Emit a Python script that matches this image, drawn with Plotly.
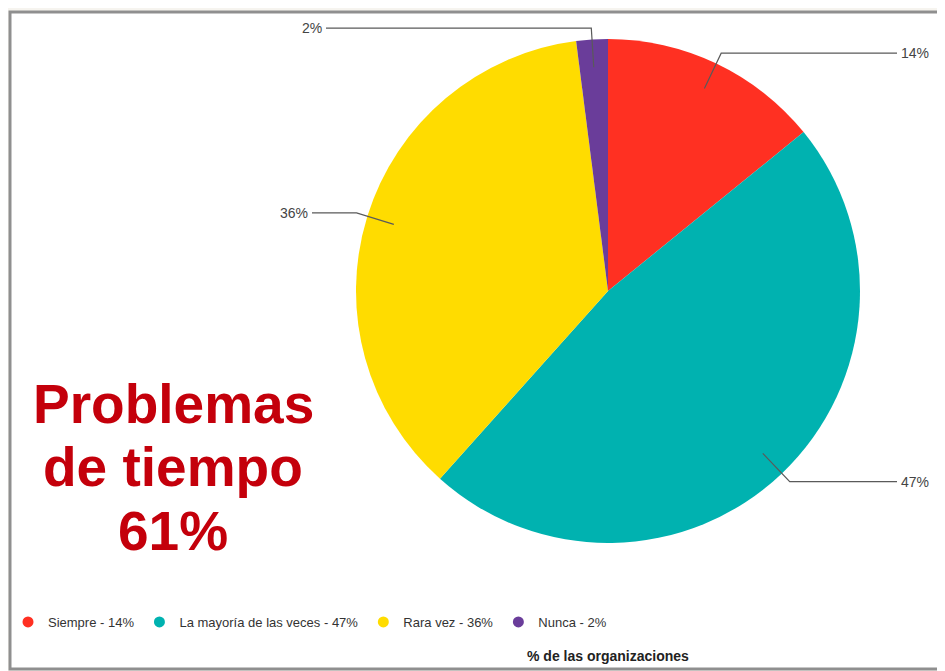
import math
import plotly.graph_objects as go

# ---- data ----
categories = ["Siempre", "La mayoría de las veces", "Rara vez", "Nunca"]
values = [14, 47, 36, 2]
colors = ["#FF3022", "#00B2B0", "#FFDC00", "#6A3D9A"]
axis_title = "% de las organizaciones"
headline = ["Problemas", "de tiempo", "61%"]

# ---- layout geometry (screen pixels; page body has an 8px margin) ----
OFF = 8
W, H = 937, 663
CX, CY, R = 608, 291, 252
LABEL_END_X = [897, 897, 312, 326]


def px(x):
    return (x - OFF) / W


def py(y):
    return 1 - (y - OFF) / H


fig = go.Figure()
fig.add_trace(go.Pie(
    labels=categories, values=values, sort=False, direction="clockwise",
    rotation=0, marker=dict(colors=colors, line=dict(width=0)),
    textinfo="none", hoverinfo="label+percent", showlegend=False,
    domain=dict(x=[px(CX - R), px(CX + R)], y=[py(CY + R), py(CY - R)]),
))

# legend entries as circle markers
for cat, v, c in zip(categories, values, colors):
    fig.add_trace(go.Scatter(
        x=[None], y=[None], mode="markers", name=f"{cat} - {v}%",
        marker=dict(symbol="circle", size=11, color=c),
    ))

shapes = [dict(type="rect", xref="paper", yref="paper", x0=px(10), x1=px(990),
               y0=py(669), y1=py(12), fillcolor="white",
               line=dict(color="#8f8f8f", width=3), layer="below")]
annotations = []

total = sum(values)
cum = 0
for i, (v, lx) in enumerate(zip(values, LABEL_END_X)):
    mid = (cum + v / 2) / total * 2 * math.pi
    cum += v
    sx, sy = CX + 0.89 * R * math.sin(mid), CY - 0.89 * R * math.cos(mid)
    ex, ey = CX + 1.045 * R * math.sin(mid), CY - 1.045 * R * math.cos(mid)
    path = f"M {px(sx)},{py(sy)} L {px(ex)},{py(ey)} L {px(lx)},{py(ey)}"
    shapes.append(dict(type="path", xref="paper", yref="paper", path=path,
                       line=dict(color="#5a5a5a", width=1.2)))
    right = lx > CX
    annotations.append(dict(
        x=px(lx + (2 if right else -2)), y=py(ey), xref="paper", yref="paper",
        text=f"{round(v / total * 100)}%", showarrow=False,
        xanchor="left" if right else "right", yanchor="middle",
        font=dict(family="Liberation Sans", size=14, color="#444444"),
    ))

for txt, yc in zip(headline, [404, 467, 531]):
    annotations.append(dict(
        x=px(173), y=py(yc), xref="paper", yref="paper", text=f"<b>{txt}</b>",
        showarrow=False, xanchor="center", yanchor="middle",
        font=dict(family="Liberation Sans", size=55, color="#C4000B"),
    ))

annotations.append(dict(
    x=px(608), y=py(656), xref="paper", yref="paper", text=f"<b>{axis_title}</b>",
    showarrow=False, xanchor="center", yanchor="middle",
    font=dict(family="Liberation Sans", size=14, color="#222222"),
))

fig.update_layout(
    width=W, height=H, margin=dict(l=0, r=0, t=0, b=0),
    paper_bgcolor="#F6F4EF", plot_bgcolor="rgba(0,0,0,0)",
    xaxis=dict(visible=False), yaxis=dict(visible=False),
    shapes=shapes, annotations=annotations,
    legend=dict(orientation="h", x=0, y=py(622), xanchor="left",
                yanchor="middle", bgcolor="rgba(0,0,0,0)", itemwidth=30,
                font=dict(family="Liberation Sans", size=13, color="#333333"),
                tracegroupgap=0),
)

fig.write_html("out.html")
